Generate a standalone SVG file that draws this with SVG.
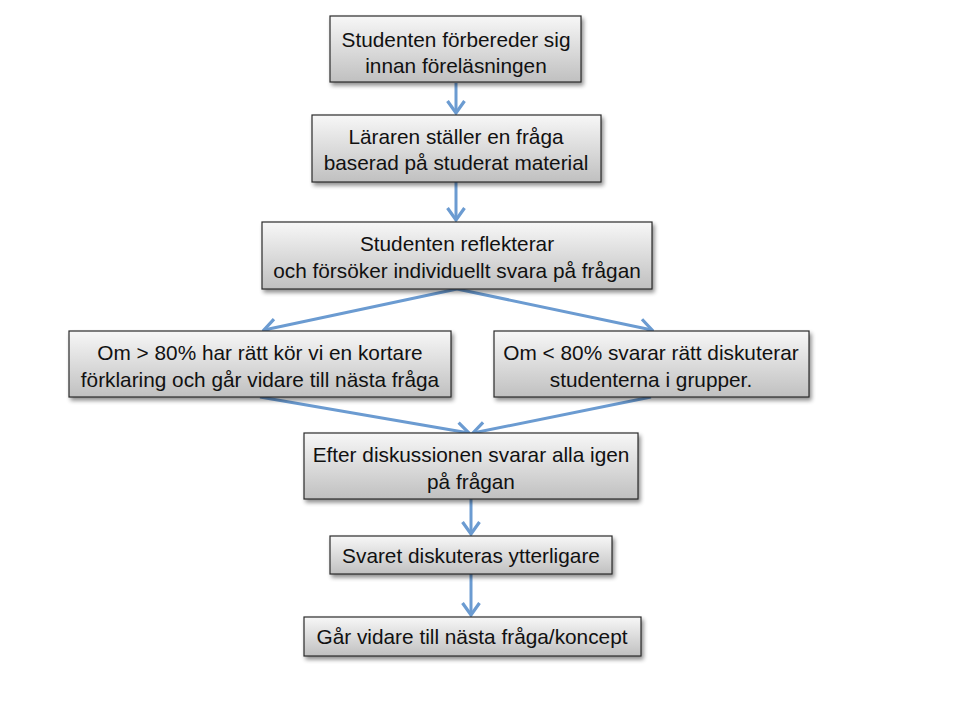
<svg xmlns="http://www.w3.org/2000/svg" width="958" height="708" viewBox="0 0 958 708">
<defs>
<linearGradient id="g" x1="0" y1="0" x2="0" y2="1">
<stop offset="0" stop-color="#f7f7f7"/>
<stop offset="1" stop-color="#c0c0c0"/>
</linearGradient>
<filter id="sh" x="-10%" y="-20%" width="130%" height="160%">
<feGaussianBlur in="SourceAlpha" stdDeviation="2"/>
<feOffset dx="2" dy="3" result="b"/>
<feComponentTransfer><feFuncA type="linear" slope="0.45"/></feComponentTransfer>
<feMerge><feMergeNode/><feMergeNode in="SourceGraphic"/></feMerge>
</filter>
<marker id="ah" viewBox="0 0 16 20" markerWidth="16" markerHeight="20" refX="13.5" refY="10" orient="auto" markerUnits="userSpaceOnUse">
<path d="M1.5,1.5 L13.5,10 L1.5,18.5" fill="none" stroke="#6b9bd1" stroke-width="3.2"/>
</marker>
<style>
.box{fill:url(#g);stroke:#2b2b2b;stroke-width:1.2;filter:url(#sh)}
.t{font-family:"Liberation Sans",Arial,sans-serif;font-size:20.8px;fill:#111;text-anchor:middle}
.c{stroke:#6b9bd1;stroke-width:3;fill:none;marker-end:url(#ah)}
</style>
</defs>
<rect width="958" height="708" fill="#fff"/>
<g id="connectors">
<line class="c" x1="456" y1="83" x2="456" y2="113"/>
<line class="c" x1="456" y1="182" x2="456" y2="220"/>
<line class="c" x1="457" y1="289" x2="264" y2="330"/>
<line class="c" x1="457" y1="289" x2="652" y2="330"/>
<line class="c" x1="260" y1="397" x2="469" y2="433"/>
<line class="c" x1="651" y1="397" x2="473" y2="433"/>
<line class="c" x1="471" y1="499" x2="471" y2="534"/>
<line class="c" x1="471" y1="574" x2="471" y2="615"/>
</g>
<g id="n1"><rect class="box" x="330" y="16" width="251" height="66"/>
<text class="t" x="456" y="47">Studenten förbereder sig</text>
<text class="t" x="456" y="73">innan föreläsningen</text></g>
<g id="n2"><rect class="box" x="312" y="115" width="289" height="67"/>
<text class="t" x="456" y="144">Läraren ställer en fråga</text>
<text class="t" x="456" y="170">baserad på studerat material</text></g>
<g id="n3"><rect class="box" x="262" y="222" width="390" height="67"/>
<text class="t" x="457" y="251">Studenten reflekterar</text>
<text class="t" x="457" y="278">och försöker individuellt svara på frågan</text></g>
<g id="n4"><rect class="box" x="69" y="331" width="382" height="66"/>
<text class="t" x="260" y="360">Om &gt; 80% har rätt kör vi en kortare</text>
<text class="t" x="260" y="387">förklaring och går vidare till nästa fråga</text></g>
<g id="n5"><rect class="box" x="494" y="331" width="315" height="66"/>
<text class="t" x="651" y="360">Om &lt; 80% svarar rätt diskuterar</text>
<text class="t" x="651" y="387">studenterna i grupper.</text></g>
<g id="n6"><rect class="box" x="304" y="433" width="334" height="66"/>
<text class="t" x="471" y="462">Efter diskussionen svarar alla igen</text>
<text class="t" x="471" y="489">på frågan</text></g>
<g id="n7"><rect class="box" x="330" y="536" width="282" height="38"/>
<text class="t" x="471" y="563">Svaret diskuteras ytterligare</text></g>
<g id="n8"><rect class="box" x="304" y="617" width="337" height="39"/>
<text class="t" x="472" y="644">Går vidare till nästa fråga/koncept</text></g>
</svg>
